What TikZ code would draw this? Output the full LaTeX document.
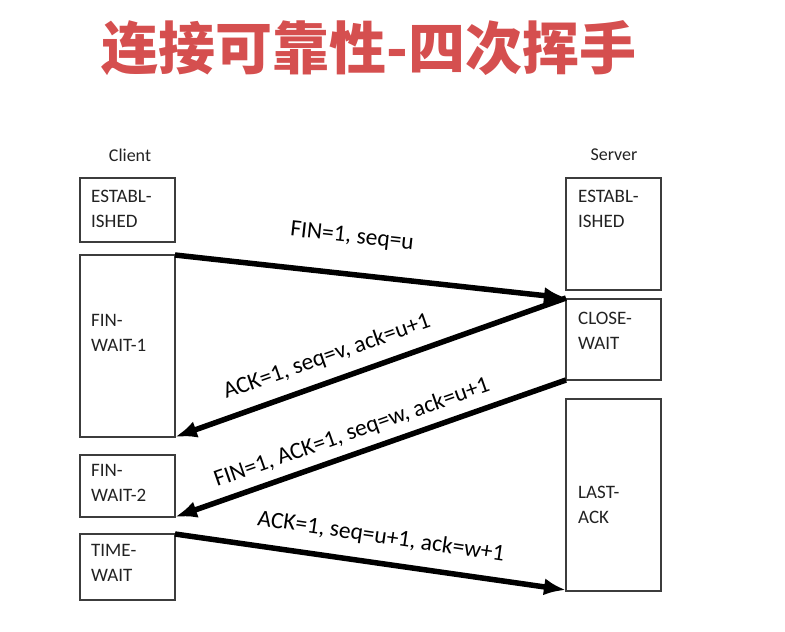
\documentclass[tikz,border=0pt]{standalone}
\usepackage{fontspec}
\setmainfont{Carlito}
\newfontfamily\cjk{Noto Sans CJK SC Black}
\usetikzlibrary{arrows.meta}
\definecolor{titlered}{RGB}{213,79,79}
\definecolor{boxline}{RGB}{60,60,60}
\definecolor{txtcol}{RGB}{34,34,34}
\begin{document}
\begin{tikzpicture}[x=1pt,y=-1pt,
  statebox/.style={draw=boxline, line width=1.1pt, fill=white},
  statetxt/.style={anchor=west, align=left, inner sep=0pt, text=txtcol,
    font=\fontsize{19}{25}\selectfont},
  headtxt/.style={inner sep=0pt, text=txtcol, font=\fontsize{18}{20}\selectfont},
  msg/.style={line width=5.5pt, -{Latex[length=22pt,width=17pt]}},
  msgtxt/.style={inner sep=0pt, text=black, font=\fontsize{23.5}{26}\selectfont}]
\useasboundingbox (0,0) rectangle (785,632);
\node[inner sep=0pt, text=titlered, font=\cjk\fontsize{57}{60}\selectfont] (title) at (369,48) {连接可靠性-四次挥手};
\node[headtxt] (client) at (130,155) {Client};
\node[headtxt] (server) at (614,155) {Server};
% client boxes
\draw[statebox] (80,178) rectangle (175,242);
\draw[statebox] (80,255) rectangle (175,437);
\draw[statebox] (80,455) rectangle (175,517);
\draw[statebox] (80,534) rectangle (175,600);
% server boxes
\draw[statebox] (566,178) rectangle (661,290);
\draw[statebox] (566,299) rectangle (661,380);
\draw[statebox] (566,399) rectangle (661,591);
% named corners
\coordinate (c2ne) at (175,255);
\coordinate (c2se) at (175,437);
\coordinate (c3se) at (175,517);
\coordinate (c4ne) at (175,534);
\coordinate (s2nw) at (566,298);
\coordinate (s2sw) at (566,380);
\coordinate (s3sw) at (566,590);
% state texts
\node[statetxt] (t1) at (91,209) {ESTABL-\\ISHED};
\node[statetxt] (t2) at (91,333) {FIN-\\WAIT-1};
\node[statetxt] (t3) at (91,483) {FIN-\\WAIT-2};
\node[statetxt] (t4) at (91,563) {TIME-\\WAIT};
\node[statetxt] (t5) at (578,209) {ESTABL-\\ISHED};
\node[statetxt] (t6) at (578,331) {CLOSE-\\WAIT};
\node[statetxt] (t7) at (578,505) {LAST-\\ACK};
% messages
\draw[msg] (c2ne) -- (s2nw);
\draw[msg] (s2nw) -- (c2se);
\draw[msg] (s2sw) -- (c3se);
\draw[msg] (c4ne) -- (s3sw);
\node[msgtxt, rotate=-6.3] (m1) at (352,237) {FIN=1, seq=u};
\node[msgtxt, rotate=19.3] (m2) at (327,357) {ACK=1, seq=v, ack=u+1};
\node[msgtxt, rotate=19.3] (m3) at (352,433) {FIN=1, ACK=1, seq=w, ack=u+1};
\node[msgtxt, rotate=-8.3] (m4) at (381,537) {ACK=1, seq=u+1, ack=w+1};
\end{tikzpicture}
\end{document}
